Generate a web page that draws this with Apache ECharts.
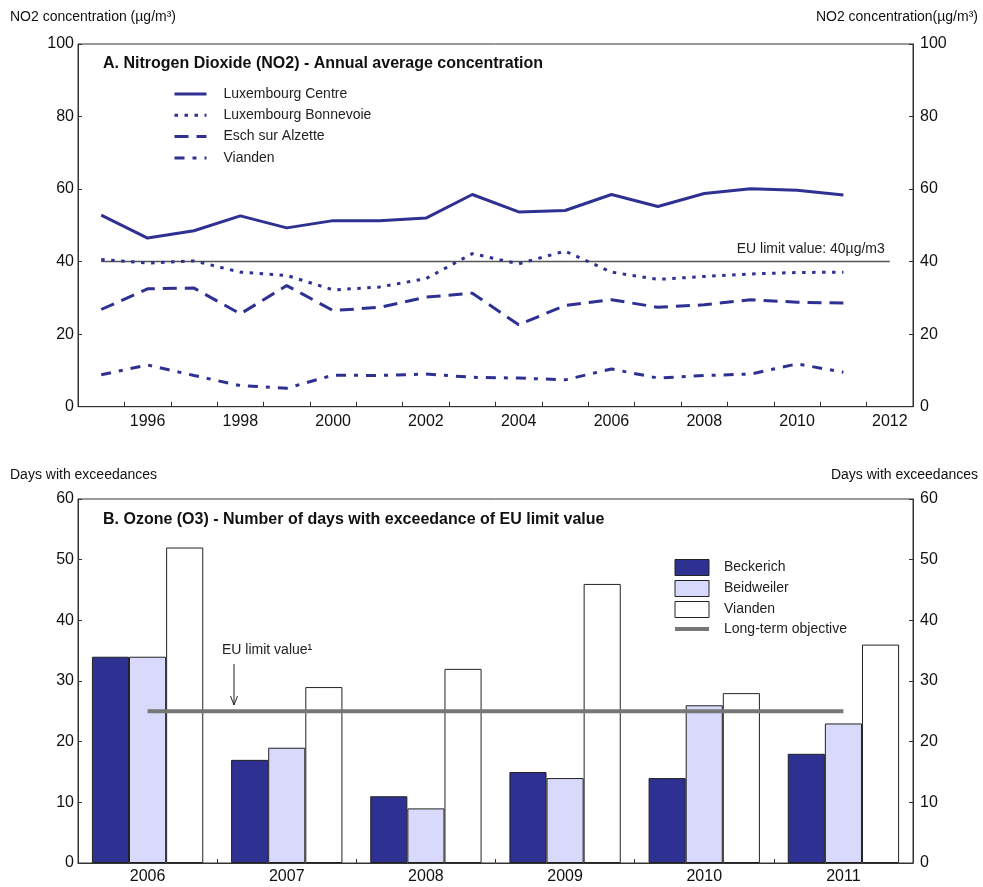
<!DOCTYPE html>
<html><head><meta charset="utf-8">
<script src="https://cdn.jsdelivr.net/npm/echarts@6/dist/echarts.min.js"></script>
<style>html,body{margin:0;padding:0;background:#fff}#c{width:983px;height:887px}</style>
</head><body><div id="c"></div>
<script>
// ---- Panel A data (NO2 annual average, µg/m³) ----
const years = ['1995','1996','1997','1998','1999','2000','2001','2002','2003','2004','2005','2006','2007','2008','2009','2010','2011','2012'];
const luxCentre    = [52.8,46.5,48.5,52.6,49.3,51.3,51.3,52.0,58.5,53.7,54.1,58.5,55.2,58.8,60.1,59.7,58.4];
const luxBonnevoie = [40.6,39.6,40.2,37.1,36.2,32.2,33.0,35.3,42.2,39.4,42.9,37.1,35.1,35.9,36.6,37.0,37.1];
const eschAlzette  = [26.8,32.5,32.7,25.6,33.4,26.5,27.4,30.2,31.3,22.6,27.9,29.5,27.4,28.1,29.5,28.8,28.6];
const viandenNO2   = [8.8,11.5,8.6,5.8,5.1,8.7,8.6,9.0,8.1,7.9,7.4,10.4,7.9,8.6,9.0,11.8,9.5];
const euLimitNO2 = 40;
const no2Ticks = [0, 100, 20];

// ---- Panel B data (O3 days with exceedance) ----
const o3Years = ['2006','2007','2008','2009','2010','2011'];
const beckerich  = [34,17,11,15,14,18];
const beidweiler = [34,19,9,14,26,23];
const viandenO3  = [52,29,32,46,28,36];
const longTermObjective = [25,25,25,25,25,25];
const o3Ticks = [0, 60, 10];

const FONT = "'Liberation Sans', Arial, sans-serif";
const NAVY = '#2e3192';
const AX = '#333';

const chart = echarts.init(document.getElementById('c'), null, {renderer:'canvas'});

function yAx(grid, pos, ticks){
  return {
    type:'value', gridIndex:grid, position:pos, min:ticks[0], max:ticks[1], interval:ticks[2],
    axisLine:{show:true, lineStyle:{color:AX, width:1}},
    axisTick:{show:true, inside:true, length:4, lineStyle:{color:AX}},
    splitLine:{show:false},
    axisLabel:{fontFamily:FONT, fontSize:16, color:'#111', margin: pos==='left' ? 4 : 7}
  };
}

const lineBase = (name, data, type) => ({
  name, type:'line', xAxisIndex:0, yAxisIndex:0, data, symbol:'none', showSymbol:false,
  color: NAVY,
  lineStyle:{color:NAVY, width:3, type},
  z:3
});

const rectLegendStyle = {borderWidth:1, borderColor:'#222'};

const option = {
  animation:false,
  textStyle:{fontFamily:FONT},
  title:[
    {text:'A. Nitrogen Dioxide (NO2) - Annual average concentration', left:103, top:56, padding:0,
     textStyle:{fontFamily:FONT, fontSize:16, fontWeight:'bold', color:'#111'}},
    {text:'B. Ozone (O3) - Number of days with exceedance of EU limit value', left:103, top:512, padding:0,
     textStyle:{fontFamily:FONT, fontSize:16, fontWeight:'bold', color:'#111'}}
  ],
  grid:[
    {left:78, right:70, top:44, height:362.7, show:true, borderColor:AX, borderWidth:1, backgroundColor:'transparent'},
    {left:78, right:70, top:499, height:364, show:true, borderColor:AX, borderWidth:1, backgroundColor:'transparent'}
  ],
  xAxis:[
    {type:'category', gridIndex:0, data:years, boundaryGap:true,
     axisLine:{lineStyle:{color:AX}},
     axisTick:{show:true, interval:0, inside:true, length:5, lineStyle:{color:AX}},
     axisLabel:{interval:(i)=> i%2===1, fontFamily:FONT, fontSize:16, color:'#111', margin:7}},
    {type:'category', gridIndex:1, data:o3Years, boundaryGap:true,
     axisLine:{lineStyle:{color:AX}},
     axisTick:{show:true, interval:0, inside:true, length:4, lineStyle:{color:AX}},
     axisLabel:{fontFamily:FONT, fontSize:16, color:'#111', margin:6}}
  ],
  yAxis:[
    yAx(0,'left',no2Ticks), yAx(0,'right',no2Ticks),
    yAx(1,'left',o3Ticks), yAx(1,'right',o3Ticks)
  ],
  legend:[
    {data:['Luxembourg Centre','Luxembourg Bonnevoie','Esch sur Alzette','Vianden'],
     orient:'vertical', left:173, top:87, padding:0, itemWidth:32, itemHeight:14, itemGap:7.3,
     selectedMode:false,
     itemStyle:{opacity:0},
     lineStyle:{width:3},
     textStyle:{fontFamily:FONT, fontSize:14, color:'#222', padding:[0,0,0,12]}},
    {data:[
       {name:'Beckerich', icon:'rect', itemStyle:rectLegendStyle},
       {name:'Beidweiler', icon:'rect', itemStyle:rectLegendStyle},
       {name:'Vianden ', icon:'rect', itemStyle:rectLegendStyle},
       {name:'Long-term objective', itemStyle:{opacity:0}, lineStyle:{width:4, color:'#777'}}
     ],
     orient:'vertical', left:673, top:559, padding:0, itemWidth:34, itemHeight:16, itemGap:4,
     selectedMode:false,
     textStyle:{fontFamily:FONT, fontSize:14, color:'#222', padding:[0,0,0,10]}}
  ],
  series:[
    Object.assign(lineBase('Luxembourg Centre', luxCentre, 'solid'), {
      markLine:{
        silent:true, symbol:['none','none'], z:2,
        lineStyle:{color:'#555', width:1.3, type:'solid'},
        label:{show:true, position:'insideEndTop', distance:5, formatter:'EU limit value: ' + euLimitNO2 + 'µg/m3',
               fontFamily:FONT, fontSize:14, color:'#222'},
        data:[[{coord:[years[0], euLimitNO2]}, {coord:[years[years.length-1], euLimitNO2]}]]
      }
    }),
    lineBase('Luxembourg Bonnevoie', luxBonnevoie, [3.5,6.5]),
    lineBase('Esch sur Alzette', eschAlzette, [14,8]),
    lineBase('Vianden', viandenNO2, [10,8,4,8]),
    {name:'Beckerich', type:'bar', xAxisIndex:1, yAxisIndex:2, data:beckerich,
     barGap:'0%', barCategoryGap:'20%',
     itemStyle:{color:NAVY, borderColor:'#222', borderWidth:1}},
    {name:'Beidweiler', type:'bar', xAxisIndex:1, yAxisIndex:2, data:beidweiler,
     barGap:'0%', barCategoryGap:'20%',
     itemStyle:{color:'#d9d9fc', borderColor:'#222', borderWidth:1}},
    {name:'Vianden ', type:'bar', xAxisIndex:1, yAxisIndex:2, data:viandenO3,
     barGap:'0%', barCategoryGap:'20%',
     itemStyle:{color:'#ffffff', borderColor:'#222', borderWidth:1}},
    {name:'Long-term objective', type:'line', xAxisIndex:1, yAxisIndex:2, data:longTermObjective,
     symbol:'none', showSymbol:false, color:'#777', lineStyle:{color:'#777', width:4}, z:5}
  ],
  graphic:[
    {type:'text', left:10, top:10, style:{text:'NO2 concentration (µg/m³)', font:'14px '+FONT, fill:'#111'}},
    {type:'text', right:5, top:10, style:{text:'NO2 concentration(µg/m³)', font:'14px '+FONT, fill:'#111'}},
    {type:'text', left:10, top:468, style:{text:'Days with exceedances', font:'14px '+FONT, fill:'#111'}},
    {type:'text', right:5, top:468, style:{text:'Days with exceedances', font:'14px '+FONT, fill:'#111'}},
    {type:'text', left:222, top:643, style:{text:'EU limit value¹', font:'14px '+FONT, fill:'#222'}, z:10},
    {type:'line', shape:{x1:234, y1:664, x2:234, y2:705}, style:{stroke:'#222', lineWidth:1}, z:10},
    {type:'polyline', shape:{points:[[230.5,696],[234,705],[237.5,696]]}, style:{stroke:'#222', lineWidth:1, fill:null}, z:10}
  ]
};
chart.setOption(option);
</script>
</body></html>
